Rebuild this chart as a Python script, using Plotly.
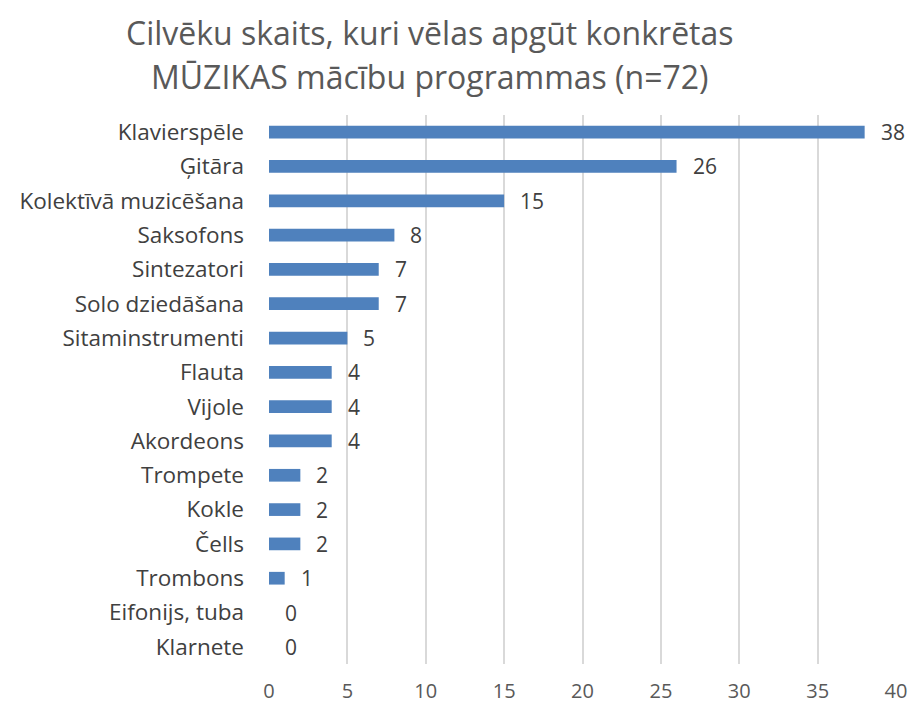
import plotly.graph_objects as go

# Instruments and number of people interested in each programme
categories = [
    "Klavierspēle", "Ģitāra", "Kolektīvā muzicēšana", "Saksofons",
    "Sintezatori", "Solo dziedāšana", "Sitaminstrumenti", "Flauta",
    "Vijole", "Akordeons", "Trompete", "Kokle", "Čells", "Trombons",
    "Eifonijs, tuba", "Klarnete",
]
counts = [38, 26, 15, 8, 7, 7, 5, 4, 4, 4, 2, 2, 2, 1, 0, 0]
x_ticks = [0, 5, 10, 15, 20, 25, 30, 35, 40]
title_lines = [
    "Cilvēku skaits, kuri vēlas apgūt konkrētas",
    "MŪZIKAS mācību programmas (n=72)",
]

font_family = "'Open Sans', sans-serif"

fig = go.Figure(
    go.Bar(
        x=counts,
        y=categories,
        orientation="h",
        marker=dict(color="#4f81bd", line=dict(width=0)),
        width=0.37,
        cliponaxis=False,
        hoverinfo="x+y",
    )
)

# Value labels just right of each bar end
for cat, val in zip(categories, counts):
    fig.add_annotation(
        x=val, y=cat,
        text=str(val),
        xref="x", yref="y",
        xanchor="left", yanchor="middle",
        xshift=14,
        showarrow=False,
        font=dict(size=21, color="#404040", family=font_family),
    )

# Two-line heading above the plot area
for line, ypos in zip(title_lines, [1.151, 1.071]):
    fig.add_annotation(
        text=line,
        xref="paper", yref="paper",
        x=0.2568, y=ypos,
        xanchor="center", yanchor="middle",
        showarrow=False,
        font=dict(size=32, color="#595959", family=font_family),
    )

fig.update_layout(
    width=910,
    height=706,
    margin=dict(l=269, r=14, t=115, b=42),
    paper_bgcolor="white",
    plot_bgcolor="white",
    showlegend=False,
    font=dict(family=font_family, color="#404040", size=21),
    xaxis=dict(
        range=[0, 40],
        tickvals=x_ticks,
        showgrid=True,
        gridcolor="#d9d9d9",
        gridwidth=1.5,
        zeroline=False,
        showline=False,
        ticks="",
        ticklabelstandoff=13,
        automargin=False,
        tickfont=dict(size=20, color="#595959"),
    ),
    yaxis=dict(
        autorange="reversed",
        showgrid=False,
        zeroline=False,
        showline=False,
        ticks="",
        ticklabelstandoff=24,
        automargin=False,
        tickfont=dict(size=22.5, color="#404040"),
    ),
)

fig.write_html("out.html")
